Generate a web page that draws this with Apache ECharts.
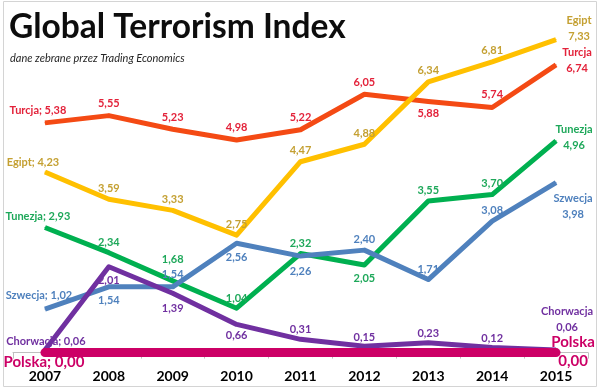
<!DOCTYPE html>
<html>
<head>
<meta charset="utf-8">
<script src="https://cdn.jsdelivr.net/npm/echarts@6/dist/echarts.min.js"></script>
<style>
html,body{margin:0;padding:0;background:#fff;}
#chart{width:600px;height:391px;}
</style>
</head>
<body>
<div id="chart"></div>
<script>
var years = ['2007','2008','2009','2010','2011','2012','2013','2014','2015'];
var turcja    = [5.38, 5.55, 5.23, 4.98, 5.22, 6.05, 5.88, 5.74, 6.74];
var egipt     = [4.23, 3.59, 3.33, 2.75, 4.47, 4.88, 6.34, 6.81, 7.33];
var tunezja   = [2.93, 2.34, 1.68, 1.04, 2.32, 2.05, 3.55, 3.70, 4.96];
var szwecja   = [1.02, 1.54, 1.54, 2.56, 2.26, 2.40, 1.71, 3.08, 3.98];
var chorwacja = [0.06, 2.01, 1.39, 0.66, 0.31, 0.15, 0.23, 0.12, 0.06];
var polska    = [0, 0, 0, 0, 0, 0, 0, 0, 0];

// label offsets from the data point (style/layout only)
var offTurcja    = [[-7,-12],[0,-12],[0,-12],[0,-12],[0,-12],[0,-12],[0,12],[0,-13],[21,-4]];
var offEgipt     = [[-12,-10],[0,-11],[0,-11],[0,-11],[0,-11],[0,-11],[0,-11],[0,-11],[23,-11]];
var offTunezja   = [[-7,-11],[0,-10],[0,-21],[0,-10],[0,-10],[0,13],[0,-11],[0,-11],[18,-3]];
var offSzwecja   = [[-6,-14],[0,14],[0,-12],[0,14],[0,15],[0,-11],[0,-10],[0,-11],[17,24]];
var offChorwacja = [[1,-9],[0,14],[0,15],[0,11],[0,-10],[0,-9],[0,-9],[0,-9],[11,-31]];
var offPolska    = [[-1,10],null,null,null,null,null,null,null,[17,-1]];

function fmt(v){ return v.toFixed(2).replace('.', ','); }

var FONT = 'Lato';

function makeSeries(name, values, lineColor, labelColor, width, offsets, opts){
  opts = opts || {};
  var data = values.map(function(v, i){
    var off = offsets[i];
    var item = {value: v};
    if (!off) {
      item.label = {show: false};
    } else {
      item.label = {show: true, position: [off[0] + 0.5, off[1] + 0.5]};
    }
    return item;
  });
  return {
    name: name,
    type: 'line',
    data: data,
    symbol: 'circle',
    symbolSize: 1,
    itemStyle: {color: lineColor},
    lineStyle: {color: lineColor, width: width, cap: opts.cap || 'butt', join: 'round'},
    z: opts.z || 2,
    animation: false,
    label: {
      show: true,
      align: 'center',
      verticalAlign: 'middle',
      color: labelColor,
      fontFamily: FONT,
      fontWeight: 'bold',
      fontSize: opts.fontSize || 11,
      lineHeight: opts.lineHeight || 16,
      formatter: function(p){
        var v = fmt(p.value);
        if (p.dataIndex === 0) return name + '; ' + v;
        if (p.dataIndex === values.length - 1) return name + '\n' + v;
        return v;
      }
    }
  };
}

var chart = echarts.init(document.getElementById('chart'), null, {renderer: 'canvas'});
var option = {
  backgroundColor: '#ffffff',
  animation: false,
  title: [
    {text: 'Global Terrorism Index', left: 4, top: 5,
     textStyle: {fontFamily: FONT, fontWeight: 'bold', fontSize: 33.5, color: '#0d0d0d'}},
    {text: 'dane zebrane przez Trading Economics', left: 5, top: 48,
     textStyle: {fontFamily: FONT, fontStyle: 'italic', fontWeight: 'normal', fontSize: 11, color: '#262626'}}
  ],
  graphic: [
    {type: 'rect', shape: {x: 3.5, y: 1.5, width: 593, height: 385},
     style: {fill: 'none', stroke: '#d4d4d4', lineWidth: 1}, z: 0, silent: true}
  ],
  grid: {left: 13, right: 12, top: 11, bottom: 32},
  xAxis: {
    type: 'category',
    data: years,
    boundaryGap: true,
    axisLine: {show: true, lineStyle: {color: '#bfbfbf', width: 1}},
    axisTick: {show: true, length: 6, lineStyle: {color: '#bfbfbf'}},
    axisLabel: {fontFamily: FONT, fontWeight: 'bold', fontSize: 14, color: '#000', margin: 10}
  },
  yAxis: {
    type: 'value', min: -0.15, max: 8,
    show: false,
    splitLine: {show: false}
  },
  series: [
    makeSeries('Turcja', turcja, '#f44a14', '#e3223a', 5, offTurcja),
    makeSeries('Egipt', egipt, '#ffc000', '#c4a032', 5, offEgipt),
    makeSeries('Tunezja', tunezja, '#00b050', '#1ea85a', 5, offTunezja),
    makeSeries('Szwecja', szwecja, '#4f81bd', '#4f81bd', 5, offSzwecja),
    makeSeries('Chorwacja', chorwacja, '#7030a0', '#7030a0', 5, offChorwacja),
    makeSeries('Polska', polska, '#cc0066', '#cc0066', 9, offPolska, {cap: 'round', z: 3, fontSize: 15, lineHeight: 19})
  ]
};
chart.setOption(option);
</script>
</body>
</html>
